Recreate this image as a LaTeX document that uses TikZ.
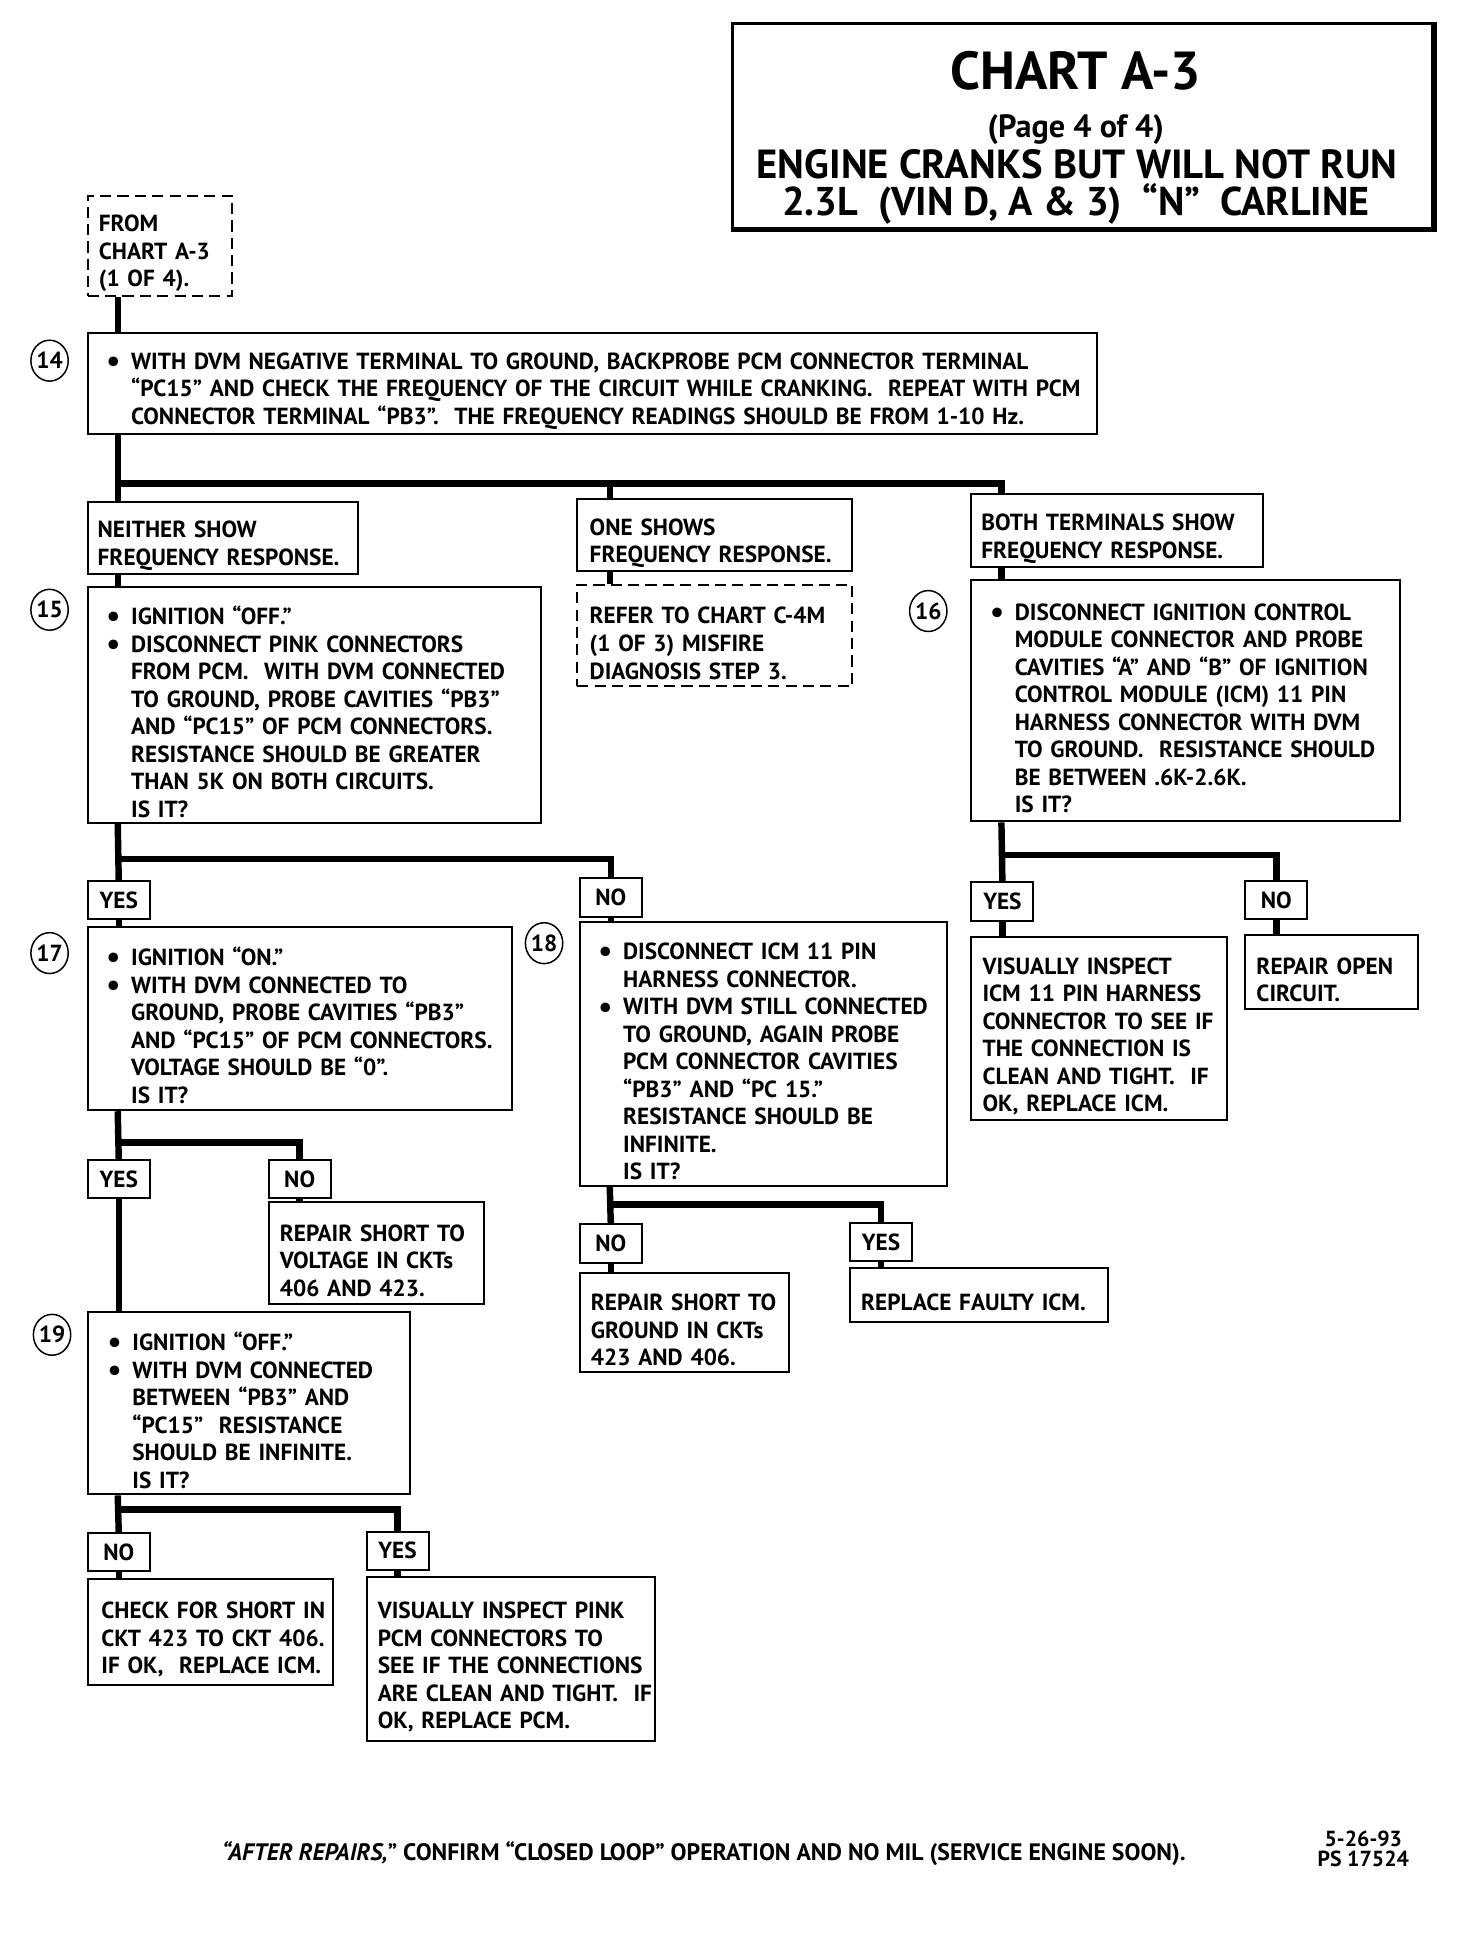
\documentclass[tikz,border=0pt]{standalone}
\usepackage{fontspec}
\setmainfont{PT Sans}
\usetikzlibrary{calc,shapes.geometric}
\newcommand\bodyfont{\fontsize{9.4}{11.1}\selectfont\bfseries}
\newlength\indw
\newcommand\T{\rule{0pt}{13pt}}
\newcommand\I[1]{\leavevmode\hspace*{\indw}\mbox{#1}}
\newcommand\B[1]{\leavevmode\hspace*{\dimexpr\indw-10pt\relax}\makebox[10pt][l]{\raisebox{-0.9pt}{\fontsize{12.5}{11}\selectfont\textbullet}}\mbox{#1}}
\tikzset{
  box/.style={draw, line width=0.8pt, rectangle, anchor=north west, inner ysep=0pt, inner xsep=4pt, align=left, font=\bodyfont},
  dbox/.style={box, dash pattern=on 4.5pt off 2.5pt},
  yn/.style={draw, line width=0.8pt, rectangle, anchor=north west, minimum width=25pt, minimum height=15.5pt, inner sep=0pt, font=\bodyfont},
  conn/.style={line width=2.6pt},
  num/.style={draw, ellipse, line width=0.6pt, minimum width=13.5pt, minimum height=16.5pt, inner sep=0pt, font=\bodyfont},
  ttl/.style={anchor=base, inner sep=0pt},
}
\begin{document}
\begin{tikzpicture}[x=0.5pt,y=0.5pt]
\useasboundingbox (0,0) rectangle (1188,-1575);

% title
\node[draw, line width=1.2pt, anchor=north west, minimum width=282.5pt, minimum height=82.5pt, inner sep=0pt] (title) at (590,-18) {};
\draw[line width=1.8pt] (title.north east) -- (title.south east) -- (title.south west);
\node[ttl, font=\fontsize{21.6}{24}\selectfont\bfseries] (t1) at (868,-72) {CHART A-3};
\node[ttl, font=\fontsize{13}{15}\selectfont\bfseries] (t2) at (868,-111) {(Page 4 of 4)};
\node[ttl, font=\fontsize{16.4}{18}\selectfont\bfseries] (t3) at (869,-144) {ENGINE CRANKS BUT WILL NOT RUN};
\node[ttl, font=\fontsize{16.2}{18}\selectfont\bfseries] (t4) at (868,-174) {2.3L\ \ (VIN D, A \& 3)\ \ “N”\ \ CARLINE};

% boxes
\node[dbox, minimum width=58pt, minimum height=40.5pt, text width=50pt] (from) at (70,-157) {\setlength\indw{0.5pt}\T\I{FROM}\\\I{CHART A-3}\\\I{(1 OF 4).}};

\node[box, minimum width=407pt, minimum height=40.5pt, text width=399pt] (s14) at (70,-268) {\setlength\indw{13.5pt}\T\B{WITH DVM NEGATIVE TERMINAL TO GROUND, BACKPROBE PCM CONNECTOR TERMINAL}\\\I{“PC15” AND CHECK THE FREQUENCY OF THE CIRCUIT WHILE CRANKING.\ \ REPEAT WITH PCM}\\\I{CONNECTOR TERMINAL “PB3”.\ \ THE FREQUENCY READINGS SHOULD BE FROM 1-10 Hz.}};

\node[box, minimum width=109pt, minimum height=29pt, text width=101pt] (neither) at (70,-404) {\setlength\indw{0pt}\T\I{NEITHER SHOW}\\\I{FREQUENCY RESPONSE.}};
\node[box, minimum width=111pt, minimum height=29pt, text width=103pt] (one) at (465,-402) {\setlength\indw{1pt}\T\I{ONE SHOWS}\\\I{FREQUENCY RESPONSE.}};
\node[dbox, minimum width=111pt, minimum height=41pt, text width=103pt] (refer) at (465,-471) {\setlength\indw{1pt}\T\I{REFER TO CHART C-4M}\\\I{(1 OF 3) MISFIRE}\\\I{DIAGNOSIS STEP 3.}};
\node[box, minimum width=117.5pt, minimum height=29.5pt, text width=109.5pt] (both) at (783,-398) {\setlength\indw{0pt}\T\I{BOTH TERMINALS SHOW}\\\I{FREQUENCY RESPONSE.}};

\node[box, minimum width=183pt, minimum height=95pt, text width=175pt] (s15) at (70,-473) {\setlength\indw{13.5pt}\T\B{IGNITION “OFF.”}\\\B{DISCONNECT PINK CONNECTORS}\\\I{FROM PCM.\ \ WITH DVM CONNECTED}\\\I{TO GROUND, PROBE CAVITIES “PB3”}\\\I{AND “PC15” OF PCM CONNECTORS.}\\\I{RESISTANCE SHOULD BE GREATER}\\\I{THAN 5K ON BOTH CIRCUITS.}\\\I{IS IT?}};

\node[box, minimum width=173pt, minimum height=97.5pt, text width=165pt] (s16) at (783,-467) {\setlength\indw{13.5pt}\T\B{DISCONNECT IGNITION CONTROL}\\\I{MODULE CONNECTOR AND PROBE}\\\I{CAVITIES “A” AND “B” OF IGNITION}\\\I{CONTROL MODULE (ICM) 11 PIN}\\\I{HARNESS CONNECTOR WITH DVM}\\\I{TO GROUND.\ \ RESISTANCE SHOULD}\\\I{BE BETWEEN .6K-2.6K.}\\\I{IS IT?}};

\node[yn] (yes15) at (70,-710) {YES};
\node[yn] (no15) at (467,-708) {NO};
\node[yn] (yes16) at (783,-711) {YES};
\node[yn] (no16) at (1004,-710) {NO};

\node[box, minimum width=171pt, minimum height=74pt, text width=163pt] (s17) at (70,-747) {\setlength\indw{13.5pt}\T\B{IGNITION “ON.”}\\\B{WITH DVM CONNECTED TO}\\\I{GROUND, PROBE CAVITIES “PB3”}\\\I{AND “PC15” OF PCM CONNECTORS.}\\\I{VOLTAGE SHOULD BE “0”.}\\\I{IS IT?}};

\node[box, minimum width=148pt, minimum height=106.5pt, text width=140pt] (s18) at (467,-743) {\setlength\indw{13.5pt}\T\B{DISCONNECT ICM 11 PIN}\\\I{HARNESS CONNECTOR.}\\\B{WITH DVM STILL CONNECTED}\\\I{TO GROUND, AGAIN PROBE}\\\I{PCM CONNECTOR CAVITIES}\\\I{“PB3” AND “PC 15.”}\\\I{RESISTANCE SHOULD BE}\\\I{INFINITE.}\\\I{IS IT?}};

\node[box, minimum width=103pt, minimum height=74pt, text width=95pt] (visicm) at (783,-755) {\setlength\indw{0.5pt}\T\I{VISUALLY INSPECT}\\\I{ICM 11 PIN HARNESS}\\\I{CONNECTOR TO SEE IF}\\\I{THE CONNECTION IS}\\\I{CLEAN AND TIGHT.\ \ IF}\\\I{OK, REPLACE ICM.}};
\node[box, minimum width=69.5pt, minimum height=29.5pt, text width=61.5pt] (repopen) at (1004,-754) {\setlength\indw{0.5pt}\T\I{REPAIR OPEN}\\\I{CIRCUIT.}};

\node[yn] (yes17) at (70,-935) {YES};
\node[yn] (no17) at (216,-935) {NO};
\node[box, minimum width=87pt, minimum height=41pt, text width=79pt] (repvolt) at (216,-969) {\setlength\indw{0.5pt}\T\I{REPAIR SHORT TO}\\\I{VOLTAGE IN CKTs}\\\I{406 AND 423.}};

\node[yn] (no18) at (467,-987) {NO};
\node[yn] (yes18) at (685,-986) {YES};
\node[box, minimum width=84.5pt, minimum height=40pt, text width=76.5pt] (repgnd) at (467,-1026) {\setlength\indw{0.5pt}\T\I{REPAIR SHORT TO}\\\I{GROUND IN CKTs}\\\I{423 AND 406.}};
\node[box, minimum width=104pt, minimum height=22pt, text width=96pt] (replace) at (685,-1022) {\setlength\indw{0.5pt}\T\I{REPLACE FAULTY ICM.}};

\node[box, minimum width=130pt, minimum height=73.5pt, text width=122pt] (s19) at (70,-1058) {\setlength\indw{14pt}\T\B{IGNITION “OFF.”}\\\B{WITH DVM CONNECTED}\\\I{BETWEEN “PB3” AND}\\\I{“PC15”\ \ RESISTANCE}\\\I{SHOULD BE INFINITE.}\\\I{IS IT?}};

\node[yn] (no19) at (70,-1236) {NO};
\node[yn] (yes19) at (295,-1235) {YES};
\node[box, minimum width=99pt, minimum height=43pt, text width=91pt] (check) at (70,-1273) {\setlength\indw{1.5pt}\T\I{CHECK FOR SHORT IN}\\\I{CKT 423 TO CKT 406.}\\\I{IF OK,\ \ REPLACE ICM.}};
\node[box, minimum width=116.5pt, minimum height=66pt, text width=108.5pt] (vispink) at (295,-1272) {\setlength\indw{0.5pt}\T\I{VISUALLY INSPECT PINK}\\\I{PCM CONNECTORS TO}\\\I{SEE IF THE CONNECTIONS}\\\I{ARE CLEAN AND TIGHT.\ \ IF}\\\I{OK, REPLACE PCM.}};

% step numbers
\node[num] (c14) at (40,-291) {14};
\node[num] (c15) at (40,-492) {15};
\node[num] (c16) at (749,-493) {16};
\node[num] (c17) at (40,-769) {17};
\node[num] (c18) at (439,-761) {18};
\node[num] (c19) at (42,-1077) {19};

% connectors
\draw[conn] (95,0 |- from.south) -- (95,0 |- s14.north);
\draw[conn] (95,0 |- s14.south) -- (95,0 |- neither.north);
\coordinate (b14) at (95,-390);
\draw[conn] (b14) -| (808,0 |- both.north);
\draw[conn] (492,0 |- b14) -- (492,0 |- one.north);
\draw[conn] (492,0 |- one.south) -- (492,0 |- refer.north);
\draw[conn] (95,0 |- neither.south) -- (95,0 |- s15.north);
\draw[conn] (808,0 |- both.south) -- (808,0 |- s16.north);

\draw[conn] (95,0 |- s15.south) -- (yes15.north);
\coordinate (b15) at (95,-693);
\draw[conn] (b15) -| (no15.north);
\draw[conn] (808,0 |- s16.south) -- (yes16.north);
\coordinate (b16) at (808,-690);
\draw[conn] (b16) -| (no16.north);

\draw[conn] (yes15.south) -- (yes15.south |- s17.north);
\draw[conn] (no15.south) -- (no15.south |- s18.north);
\draw[conn] (yes16.south) -- (yes16.south |- visicm.north);
\draw[conn] (no16.south) -- (no16.south |- repopen.north);

\draw[conn] (95,0 |- s17.south) -- (yes17.north);
\coordinate (b17) at (95,-922);
\draw[conn] (b17) -| (no17.north);
\draw[conn] (no17.south) -- (no17.south |- repvolt.north);
\draw[conn] (yes17.south) -- (yes17.south |- s19.north);

\draw[conn] (492,0 |- s18.south) -- (no18.north);
\coordinate (b18) at (492,-972);
\draw[conn] (b18) -| (yes18.north);
\draw[conn] (no18.south) -- (no18.south |- repgnd.north);
\draw[conn] (yes18.south) -- (yes18.south |- replace.north);

\draw[conn] (95,0 |- s19.south) -- (no19.north);
\coordinate (b19) at (95,-1218);
\draw[conn] (b19) -| (yes19.north);
\draw[conn] (no19.south) -- (no19.south |- check.north);
\draw[conn] (yes19.south) -- (yes19.south |- vispink.north);

% footer
\node[ttl, font=\fontsize{9.6}{11}\selectfont\bfseries] (foot) at (568,-1501) {\textit{“AFTER REPAIRS,}” CONFIRM “CLOSED LOOP” OPERATION AND NO MIL (SERVICE ENGINE SOON).};
\node[ttl, font=\fontsize{8.8}{10}\selectfont\bfseries] (date) at (1100,-1490) {5-26-93};
\node[ttl, font=\fontsize{8.8}{10}\selectfont\bfseries] (ps) at (1100,-1506) {PS 17524};
\end{tikzpicture}
\end{document}
